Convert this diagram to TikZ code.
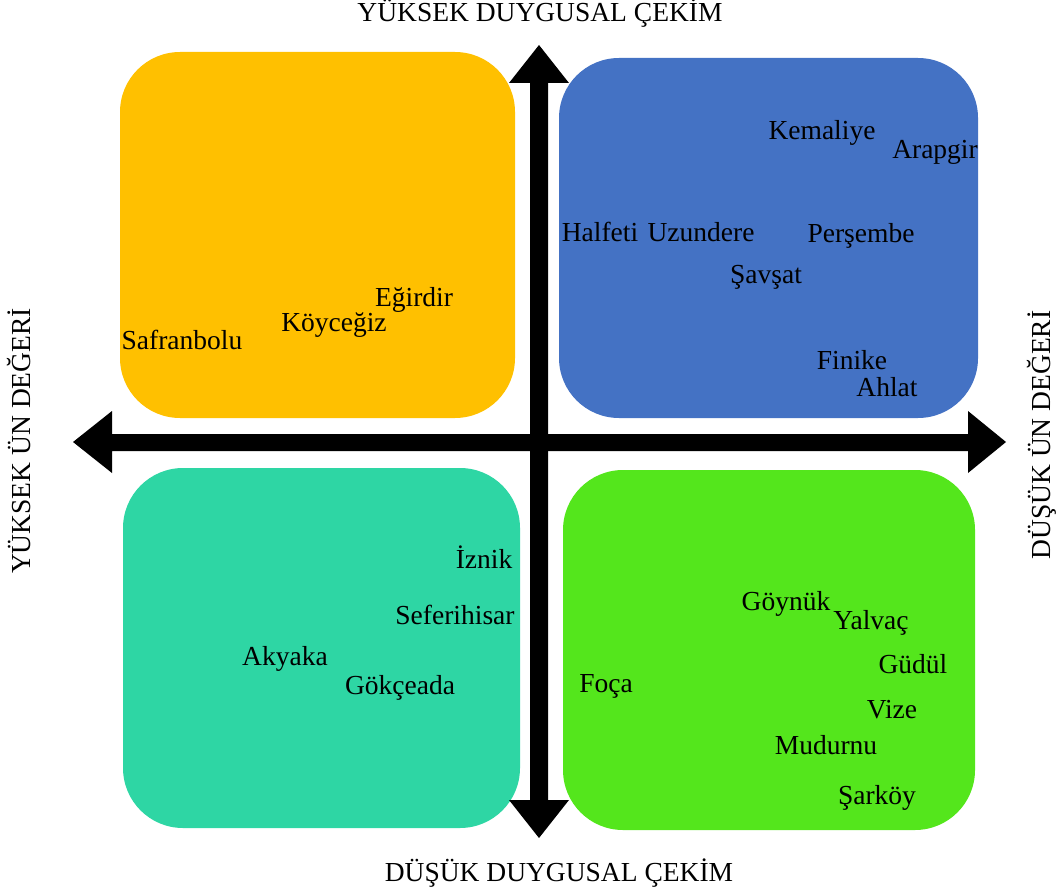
\documentclass[tikz,border=0pt]{standalone}
\usepackage{fontspec}
\setmainfont{Liberation Serif}

\definecolor{quadyellow}{RGB}{255,192,0}
\definecolor{quadblue}{RGB}{68,114,196}
\definecolor{quadteal}{RGB}{46,214,164}
\definecolor{quadgreen}{RGB}{84,230,28}

\tikzset{
  quad/.style={rounded corners=60pt},
  place/.style={font=\fontsize{27.5}{31}\selectfont, inner sep=0pt,
    text height=19pt, text depth=5pt},
  axislabel/.style={place}
}

\begin{document}
\begin{tikzpicture}[x=1pt,y=-1pt]
\useasboundingbox (0,0) rectangle (1056,893);

% Quadrant boxes
\fill[quadyellow, quad] (120,52) rectangle (515,418);
\fill[quadblue, quad] (559,58) rectangle (978,418);
\fill[quadteal, quad] (123,468) rectangle (520,828);
\fill[quadgreen, quad] (563,470) rectangle (975,830);

% Vertical double arrow
\fill (530,83) -- (509,83) -- (539,45) -- (569,83) -- (548,83)
  -- (548,800) -- (569,800) -- (539,838) -- (509,800) -- (530,800) -- cycle;

% Horizontal double arrow
\fill (112,434) -- (112,411) -- (73,442) -- (112,473) -- (112,451)
  -- (968,451) -- (968,473) -- (1006,442) -- (968,411) -- (968,434) -- cycle;

% Axis labels
\node[axislabel] (top) at (540,15) {YÜKSEK DUYGUSAL ÇEKİM};
\node[axislabel] (bottom) at (559,874) {DÜŞÜK DUYGUSAL ÇEKİM};
\node[axislabel, rotate=90] (left) at (23,441) {YÜKSEK ÜN DEĞERİ};
\node[axislabel, rotate=90] (right) at (1043,435) {DÜŞÜK ÜN DEĞERİ};

% Yellow quadrant
\node[place] (egirdir) at (414,299) {Eğirdir};
\node[place] (koycegiz) at (334,324) {Köyceğiz};
\node[place] (safranbolu) at (182,342) {Safranbolu};

% Blue quadrant
\node[place] (kemaliye) at (822,133) {Kemaliye};
\node[place] (arapgir) at (935,152) {Arapgir};
\node[place] (halfeti) at (600,234) {Halfeti};
\node[place] (uzundere) at (701,234) {Uzundere};
\node[place] (persembe) at (861,235) {Perşembe};
\node[place] (savsat) at (766,276) {Şavşat};
\node[place] (finike) at (852,362) {Finike};
\node[place] (ahlat) at (887,389) {Ahlat};

% Teal quadrant
\node[place] (iznik) at (484,561) {İznik};
\node[place] (seferihisar) at (455,617) {Seferihisar};
\node[place] (akyaka) at (285,658) {Akyaka};
\node[place] (gokceada) at (400,687) {Gökçeada};

% Green quadrant
\node[place] (foca) at (606,685) {Foça};
\node[place] (goynuk) at (786,603) {Göynük};
\node[place] (yalvac) at (871,622) {Yalvaç};
\node[place] (gudul) at (913,666) {Güdül};
\node[place] (vize) at (892,711) {Vize};
\node[place] (mudurnu) at (826,747) {Mudurnu};
\node[place] (sarkoy) at (877,797) {Şarköy};

\end{tikzpicture}
\end{document}
